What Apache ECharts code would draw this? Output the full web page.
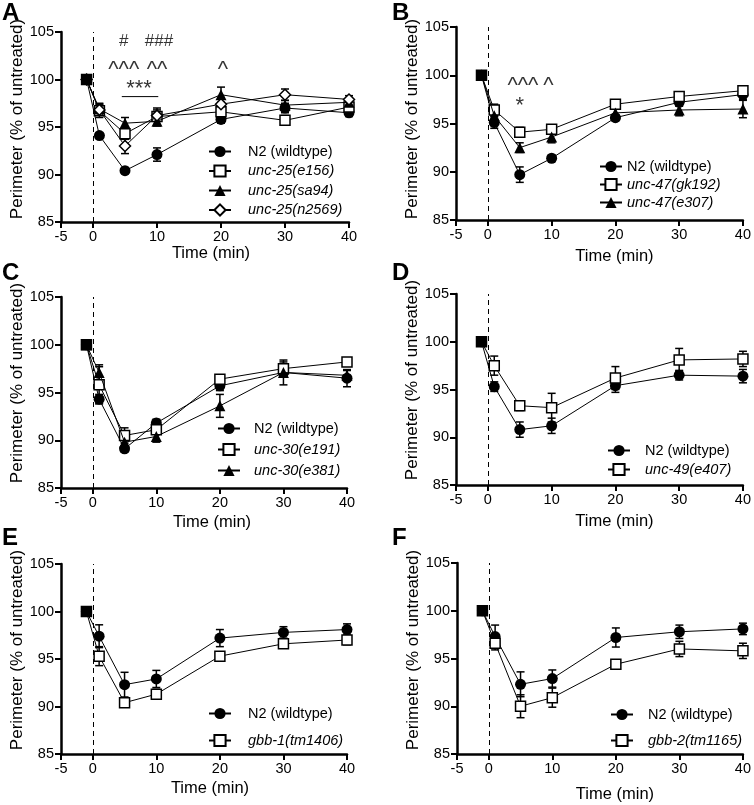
<!DOCTYPE html>
<html><head><meta charset="utf-8">
<script src="https://cdn.jsdelivr.net/npm/echarts@6/dist/echarts.min.js"></script>
<style>html,body{margin:0;padding:0;background:#fff}#c{width:754px;height:805px}</style>
</head><body><div id="c"></div>
<script>
// ---------- data ----------
const times = [-1, 1, 5, 10, 20, 30, 40];
const xTickValues = [-5, 0, 10, 20, 30, 40];
const yMin = 85, yMax = 105, yStep = 5;

// Panel A
const a_n2 = [100, 94.1, 90.4, 92.1, 95.8, 97.0, 96.5];
const a_n2_err = [0, 0.3, 0.3, 0.7, 0.4, 0.5, 0.4];
const a_e156 = [100, 96.7, 94.3, 96.1, 96.6, 95.7, 97.1];
const a_e156_err = [0, 0.7, 0.6, 0.9, 0.8, 0.5, 0.5];
const a_sa94 = [100, 96.9, 95.4, 95.6, 98.4, 97.3, 97.6];
const a_sa94_err = [0, 0.6, 0.6, 0.5, 0.8, 0.5, 0.4];
const a_n2569 = [100, 96.8, 93.0, 96.2, 97.4, 98.4, 97.9];
const a_n2569_err = [0, 0.5, 0.8, 0.6, 0.7, 0.6, 0.4];
const a_annot = [[4.8, 104.0, '#'], [10.3, 104.0, '###'], [4.8, 101.0, '^^^'], [10.0, 101.0, '^^'], [20.3, 101.0, '^'], [7.2, 99.0, '***']];
const a_sigline = [[4.5, 98.2], [10.2, 98.2]];

// Panel B
const b_n2 = [100, 95.1, 89.7, 91.4, 95.6, 97.2, 98.0];
const b_n2_err = [0, 0.6, 0.8, 0.3, 0.3, 0.4, 0.5];
const b_gk192 = [100, 96.4, 94.1, 94.4, 97.0, 97.8, 98.4];
const b_gk192_err = [0, 0.6, 0.5, 0.4, 0.4, 0.4, 0.5];
const b_e307 = [100, 95.8, 92.5, 93.6, 96.1, 96.4, 96.5];
const b_e307_err = [0, 0.7, 0.5, 0.6, 0.4, 0.6, 0.9];
const b_annot = [[5.5, 98.9, '^^^'], [9.5, 98.9, '^'], [5.0, 96.8, '*']];

// Panel C
const c_n2 = [100, 94.3, 89.1, 91.8, 95.7, 97.1, 96.5];
const c_n2_err = [0, 0.5, 0.3, 0.4, 0.5, 0.5, 0.9];
const c_e191 = [100, 95.8, 90.5, 91.1, 96.4, 97.5, 98.2];
const c_e191_err = [0, 1.9, 0.8, 0.4, 0.4, 0.7, 0.4];
const c_e381 = [100, 97.1, 89.8, 90.4, 93.6, 97.1, 96.8];
const c_e381_err = [0, 0.8, 0.6, 0.6, 1.2, 1.3, 0.5];

// Panel D
const d_n2 = [100, 95.3, 90.8, 91.2, 95.4, 96.5, 96.4];
const d_n2_err = [0, 0.5, 0.8, 0.8, 0.7, 0.5, 0.7];
const d_e407 = [100, 97.5, 93.3, 93.1, 96.2, 98.1, 98.2];
const d_e407_err = [0, 1.0, 0.5, 1.5, 1.2, 1.2, 0.8];

// Panel E
const e_n2 = [100, 97.4, 92.3, 92.9, 97.2, 97.8, 98.1];
const e_n2_err = [0, 1.2, 1.3, 0.9, 0.9, 0.6, 0.6];
const e_gbb1 = [100, 95.3, 90.4, 91.3, 95.3, 96.6, 97.0];
const e_gbb1_err = [0, 1.0, 0.4, 0.5, 0.4, 0.4, 0.5];

// Panel F
const f_n2 = [100, 97.3, 92.3, 92.9, 97.2, 97.8, 98.1];
const f_n2_err = [0, 1.2, 1.3, 0.9, 1.0, 0.7, 0.6];
const f_gbb2 = [100, 96.6, 90.0, 90.9, 94.4, 96.0, 95.8];
const f_gbb2_err = [0, 0.7, 1.2, 1.0, 0.3, 0.8, 0.8];

const N2 = 'N2 (wildtype)';
const panels = [
  { letter: 'A', series: [[N2, a_n2, a_n2_err, 'circle'], ['unc-25(e156)', a_e156, a_e156_err, 'square'], ['unc-25(sa94)', a_sa94, a_sa94_err, 'triangle'], ['unc-25(n2569)', a_n2569, a_n2569_err, 'diamond']], annot: a_annot, sig: a_sigline },
  { letter: 'B', series: [[N2, b_n2, b_n2_err, 'circle'], ['unc-47(gk192)', b_gk192, b_gk192_err, 'square'], ['unc-47(e307)', b_e307, b_e307_err, 'triangle']], annot: b_annot },
  { letter: 'C', series: [[N2, c_n2, c_n2_err, 'circle'], ['unc-30(e191)', c_e191, c_e191_err, 'square'], ['unc-30(e381)', c_e381, c_e381_err, 'triangle']] },
  { letter: 'D', series: [[N2, d_n2, d_n2_err, 'circle'], ['unc-49(e407)', d_e407, d_e407_err, 'square']] },
  { letter: 'E', series: [[N2, e_n2, e_n2_err, 'circle'], ['gbb-1(tm1406)', e_gbb1, e_gbb1_err, 'square']] },
  { letter: 'F', series: [[N2, f_n2, f_n2_err, 'circle'], ['gbb-2(tm1165)', f_gbb2, f_gbb2_err, 'square']] }
];

// ---------- layout (not data) ----------
const layout = [
  { grid: { left: 61, top: 32, width: 288, height: 190 }, letter: [2, 1], legend: { left: 208, top: 144, gap: 4.5, pad: 12 }, xGap: 18, xShift: 12, yShift: 16 },
  { grid: { left: 456, top: 27, width: 289, height: 193 }, letter: [392, 1], legend: { left: 599, top: 159, gap: 3, pad: 0 }, xGap: 28, xShift: 30, yShift: 9 },
  { grid: { left: 61, top: 297, width: 286, height: 191 }, letter: [2, 261], legend: { left: 217, top: 421, gap: 6, pad: 9 }, xGap: 26, xShift: 16, yShift: 19 },
  { grid: { left: 456, top: 294, width: 289, height: 191 }, letter: [392, 261], legend: { left: 607, top: 443, gap: 4, pad: 10 }, xGap: 28, xShift: 30, yShift: 19 },
  { grid: { left: 61, top: 564, width: 286, height: 190 }, letter: [2, 526], legend: { left: 208, top: 706, gap: 12, pad: 12 }, xGap: 26, xShift: 12, yShift: 18 },
  { grid: { left: 457, top: 563, width: 288, height: 191 }, letter: [392, 526], legend: { left: 610, top: 707, gap: 11, pad: 10 }, xGap: 32, xShift: 30, yShift: 17 }
];

const FONT = 'Liberation Sans, Arial, Helvetica, sans-serif';
const markerStyles = {
  circle: { symbol: 'circle', size: 11, color: '#000', border: '#000', bw: 0 },
  square: { symbol: 'rect', size: 10, color: '#fff', border: '#000', bw: 1.5 },
  triangle: { symbol: 'triangle', size: 11, color: '#000', border: '#000', bw: 0 },
  diamond: { symbol: 'diamond', size: 11, color: '#fff', border: '#000', bw: 1.5 }
};

function errRender(params, api) {
  const x = api.value(0), y = api.value(1), e = api.value(2);
  if (!e) return null;
  const t = api.coord([x, y + e]), b = api.coord([x, y - e]);
  const hw = 4;
  const st = { stroke: '#000', lineWidth: 1.5 };
  return { type: 'group', children: [
    { type: 'line', shape: { x1: t[0], y1: t[1], x2: b[0], y2: b[1] }, style: st },
    { type: 'line', shape: { x1: t[0] - hw, y1: t[1], x2: t[0] + hw, y2: t[1] }, style: st },
    { type: 'line', shape: { x1: b[0] - hw, y1: b[1], x2: b[0] + hw, y2: b[1] }, style: st }
  ]};
}

function annotFormatter(d) {
  const s = d.value[2];
  if (s[0] === '#') return '{h|' + s + '}';
  if (s[0] === '^') return '{c|' + s + '}';
  return '{s|' + s + '}';
}

const grids = [], xAxes = [], yAxes = [], series = [], legends = [], titles = [];
panels.forEach((p, i) => {
  const L = layout[i];
  grids.push(L.grid);
  titles.push({ text: p.letter, left: L.letter[0], top: L.letter[1], padding: 0,
    textStyle: { fontSize: 24, fontWeight: 'bold', fontFamily: FONT, color: '#000' } });
  xAxes.push({
    type: 'value', gridIndex: i, min: -5, max: 40, interval: 5,
    name: 'Time (min)', nameLocation: 'middle', nameGap: L.xGap,
    nameTextStyle: { fontSize: 16.5, fontFamily: FONT, color: '#000', verticalAlign: 'top', padding: [0, 0, 0, L.xShift] },
    axisLine: { show: true, onZero: false, lineStyle: { color: '#000', width: 2.5 } },
    axisTick: { show: true, length: 6, customValues: xTickValues, lineStyle: { color: '#000', width: 2 } },
    axisLabel: { customValues: xTickValues, fontSize: 14.5, fontFamily: FONT, color: '#000', margin: 7 },
    splitLine: { show: false }
  });
  yAxes.push({
    type: 'value', gridIndex: i, min: yMin, max: yMax, interval: yStep,
    name: 'Perimeter (% of untreated)', nameLocation: 'middle', nameGap: 29,
    nameTextStyle: { fontSize: 17, fontFamily: FONT, color: '#000', padding: [0, 0, 0, L.yShift] },
    axisLine: { show: true, onZero: false, lineStyle: { color: '#000', width: 2.5 } },
    axisTick: { show: true, length: 6, lineStyle: { color: '#000', width: 2 } },
    axisLabel: { fontSize: 14.5, fontFamily: FONT, color: '#000', margin: 7 },
    splitLine: { show: false }
  });
  const names = [];
  p.series.forEach(([name, vals, errs, mk], si) => {
    const m = markerStyles[mk];
    names.push(name);
    series.push({
      type: 'custom', xAxisIndex: i, yAxisIndex: i, renderItem: errRender, silent: true, z: 1,
      data: times.map((t, k) => [t, vals[k], errs[k]])
    });
    const s = {
      type: 'line', name, xAxisIndex: i, yAxisIndex: i, z: 2 + si,
      symbol: m.symbol, symbolSize: m.size,
      itemStyle: { color: m.color, borderColor: m.border, borderWidth: m.bw, opacity: 1 },
      lineStyle: { color: '#000', width: 1 },
      emphasis: { disabled: true },
      data: times.map((t, k) => k === 0 && mk !== 'circle'
        ? { value: [t, vals[k]], itemStyle: { color: '#000' } }
        : [t, vals[k]])
    };
    if (si === 0) {
      s.markLine = { silent: true, symbol: ['none', 'none'], label: { show: false },
        lineStyle: { type: [5, 4], color: '#000', width: 1 }, data: [{ xAxis: 0 }], animation: false };
    }
    series.push(s);
  });
  if (p.sig) {
    series.push({ type: 'line', xAxisIndex: i, yAxisIndex: i, symbol: 'none', silent: true,
      lineStyle: { color: '#000', width: 1 }, data: p.sig });
  }
  if (p.annot) {
    series.push({ type: 'scatter', xAxisIndex: i, yAxisIndex: i, symbolSize: 0, silent: true, z: 10,
      data: p.annot,
      label: { show: true, position: 'inside', formatter: annotFormatter,
        color: '#000', verticalAlign: 'middle', align: 'center',
        rich: {
          h: { fontSize: 17, fontFamily: FONT, color: '#000' },
          c: { fontSize: 22, fontFamily: FONT, color: '#000' },
          s: { fontSize: 22, fontFamily: FONT, color: '#000' }
        } } });
  }
  legends.push({
    data: names, orient: 'vertical', left: L.legend.left, top: L.legend.top,
    itemGap: L.legend.gap, itemWidth: 22, itemHeight: 14, padding: 0, selectedMode: false,
    formatter: n => n === N2 ? '{n|' + n + '}' : '{i|' + n + '}',
    textStyle: { fontSize: 14.5, fontFamily: FONT, color: '#000',
      rich: { n: { fontSize: 14.5, fontFamily: FONT, color: '#000', padding: [0, 0, 0, L.legend.pad] },
              i: { fontSize: 14.5, fontFamily: FONT, color: '#000', fontStyle: 'italic', padding: [0, 0, 0, L.legend.pad] } } }
  });
});

const chart = echarts.init(document.getElementById('c'), null, { renderer: 'canvas' });
chart.setOption({
  animation: false, backgroundColor: '#fff',
  title: titles, grid: grids, xAxis: xAxes, yAxis: yAxes, legend: legends, series
});
</script></body></html>
